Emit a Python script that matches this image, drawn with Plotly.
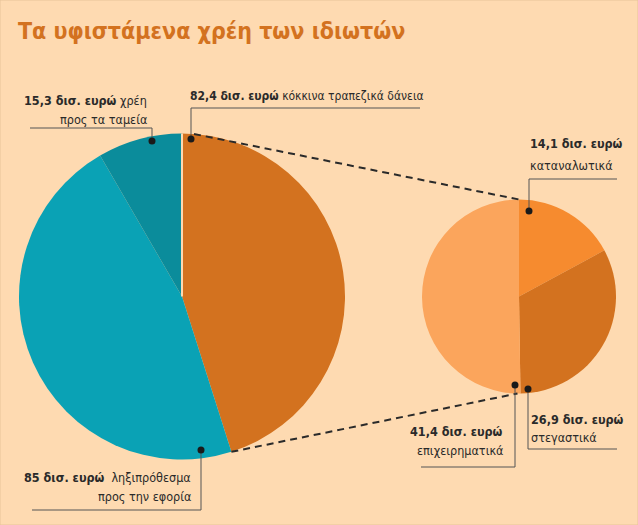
import math
import plotly.graph_objects as go

# ---- data ----
big_labels = ["κόκκινα τραπεζικά δάνεια", "ληξιπρόθεσμα προς την εφορία", "χρέη προς τα ταμεία"]
big_values = [82.4, 85.0, 15.3]
small_labels = ["καταναλωτικά", "στεγαστικά", "επιχειρηματικά"]
small_values = [14.1, 26.9, 41.4]
title_text = "Τα υφιστάμενα χρέη των ιδιωτών"

# ---- styles ----
W, H = 638, 525
BG = "#fedab1"
big_colors = ["#d3721f", "#0aa2b5", "#0b8c9b"]
small_colors = ["#f68b2f", "#d3721f", "#fba55c"]
FONT = "DejaVu Sans Condensed, Roboto, sans-serif"

big_c, big_r = (182, 296.5), 163
small_c, small_r = (519, 296.5), 97


def px_x(x):
    return x / W


def px_y(y):
    return 1 - y / H


def dom(c, r):
    return dict(x=[px_x(c[0] - r), px_x(c[0] + r)], y=[px_y(c[1] + r), px_y(c[1] - r)])


def edge_point(c, r, frac):
    a = 2 * math.pi * frac  # clockwise from 12 o'clock
    return c[0] + r * math.sin(a), c[1] - r * math.cos(a)


fig = go.Figure()
fig.add_trace(go.Pie(values=big_values, labels=big_labels, sort=False, direction="clockwise",
                     rotation=0, textinfo="none", hoverinfo="label+value",
                     marker=dict(colors=big_colors, line=dict(width=0)),
                     domain=dom(big_c, big_r), showlegend=False))
fig.add_trace(go.Pie(values=small_values, labels=small_labels, sort=False, direction="clockwise",
                     rotation=0, textinfo="none", hoverinfo="label+value",
                     marker=dict(colors=small_colors, line=dict(width=0)),
                     domain=dom(small_c, small_r), showlegend=False))

shapes = []


def line(x0, y0, x1, y1, color="#555555", width=1, dash=None):
    d = dict(type="line", xref="paper", yref="paper", x0=px_x(x0), y0=px_y(y0),
             x1=px_x(x1), y1=px_y(y1), line=dict(color=color, width=width))
    if dash:
        d["line"]["dash"] = dash
    shapes.append(d)


def dot(x, y, r=3.5):
    shapes.append(dict(type="circle", xref="paper", yref="paper",
                       x0=px_x(x - r), x1=px_x(x + r), y0=px_y(y + r), y1=px_y(y - r),
                       fillcolor="#1a1a1a", line=dict(width=0)))


# thin gap at top of big pie
line(big_c[0], big_c[1], big_c[0], big_c[1] - big_r, color=BG, width=2)

# dashed connector lines (from slice geometry)
frac_orange = big_values[0] / sum(big_values)
frac_small_two = (small_values[0] + small_values[1]) / sum(small_values)
p1 = edge_point(big_c, big_r, 0.0)
q1 = edge_point(small_c, small_r, 0.0)
p2 = edge_point(big_c, big_r, frac_orange)
q2 = edge_point(small_c, small_r, frac_small_two)
line(p1[0] + 12, p1[1] + 0.5, q1[0], q1[1], color="#2a2a2a", width=2, dash="7px,5px")
line(p2[0], p2[1], q2[0] - 3, q2[1], color="#2a2a2a", width=2, dash="7px,5px")

# leader lines + dots
# 15,3
line(30, 128, 152, 128); line(152, 128, 152, 141); dot(152, 141)
# 82,4
line(191, 108, 420, 108); line(191, 108, 191, 139); dot(191, 139)
# 14,1
line(529, 179, 617, 179); line(529, 179, 529, 211); dot(529, 211)
# 26,9
line(528, 389, 528, 449); line(528, 449, 617, 449); dot(528, 389)
# 41,4
line(515, 385, 515, 467); line(421, 467, 515, 467); dot(515, 385)
# 85
line(201, 450, 201, 510); line(32, 510, 201, 510); dot(201, 450)

# border
shapes.append(dict(type="rect", xref="paper", yref="paper", x0=0, y0=0, x1=1, y1=1,
                   line=dict(color="#e8c49a", width=1), layer="below"))

annotations = []


def txt(x, y, text, anchor="left", size=12.5):
    annotations.append(dict(x=px_x(x), y=px_y(y), xref="paper", yref="paper", text=text,
                            showarrow=False, xanchor=anchor, yanchor="middle",
                            align=anchor, font=dict(family=FONT, size=size, color="#2a2a2a")))


B = lambda s: f"<b>{s}</b>"

annotations.append(dict(x=px_x(16), y=px_y(31), xref="paper", yref="paper", text=f"<b>{title_text}</b>",
                        showarrow=False, xanchor="left", yanchor="middle",
                        font=dict(family=FONT, size=23, color="#d3721f")))

txt(149, 100, B("15,3 δισ. ευρώ") + " χρέη", "right")
txt(149, 120, "προς τα ταμεία", "right")
txt(188, 96, B("82,4 δισ. ευρώ") + " κόκκινα τραπεζικά δάνεια", "left", 12)
txt(528, 143, B("14,1 δισ. ευρώ"), "left")
txt(528, 165, "καταναλωτικά", "left")
txt(529, 419, B("26,9 δισ. ευρώ"), "left")
txt(529, 437, "στεγαστικά", "left")
txt(505, 431, B("41,4 δισ. ευρώ"), "right")
txt(505, 450, "επιχειρηματικά", "right")
txt(193, 477, B("85 δισ. ευρώ") + "  ληξιπρόθεσμα", "right")
txt(193, 496, "προς την εφορία", "right")

fig.update_layout(width=W, height=H, margin=dict(l=0, r=0, t=0, b=0),
                  paper_bgcolor=BG, plot_bgcolor=BG, shapes=shapes, annotations=annotations)
fig.write_html("out.html")
